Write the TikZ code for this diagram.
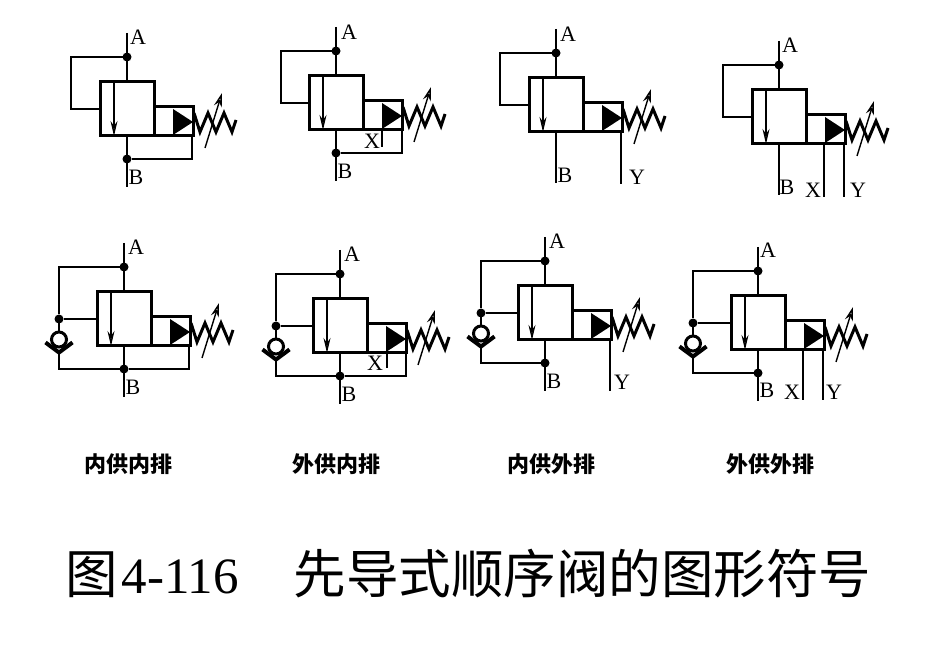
\documentclass[tikz,border=0pt]{standalone}
\usepackage{fontspec}
\setmainfont{Liberation Serif}
\newfontfamily\cjk{Noto Sans CJK SC}
\usetikzlibrary{arrows.meta}
\tikzset{
    pipe/.style={line width=1.7pt},
    stem/.style={line width=2pt},
    valvebox/.style={draw, line width=3pt, minimum size=54pt, inner sep=0pt, outer sep=0pt},
    pilotbox/.style={line width=3pt},
    poppet/.style={fill=black},
    spring/.style={line width=3pt, line join=miter},
    adjust/.style={line width=1.4pt, -{Stealth[length=14pt, width=8pt, open]}},
    flow/.style={line width=1.4pt, -{Stealth[length=15pt, width=7pt, open]}},
    jointdot/.style={circle, fill=black, minimum size=9pt, inner sep=0pt, outer sep=0pt},
    ball/.style={circle, draw, line width=3pt, minimum size=15pt, inner sep=0pt, outer sep=0pt},
    seat/.style={line width=4pt, line join=miter},
    portlabel/.style={inner sep=0pt, font=\fontsize{22}{22}\selectfont},
    caption/.style={inner sep=0pt, anchor=base, font=\cjk\bfseries\fontsize{22}{22}\selectfont},
}
\newcommand{\valvebody}{
    \node[valvebox] (main) at (27,27) {};
    \draw[pilotbox] (main.east |- 0,25) rectangle (93,54);
    \fill[poppet] (73,27) -- (93,40) -- (73,53) -- cycle;
    \draw[spring] (94,31) -- (100,50) -- (108,31) -- (116,50) -- (124,31) -- (132,50) -- (136,38);
    \draw[adjust] (105,66) -- (122,11);
    \draw[flow] (14,0) -- (14,54);
    \coordinate (topa) at (27,-49);
    \coordinate (topb) at (27,105);
    \node[jointdot] (dota) at (27,-25) {};
    \draw[stem] (topa) -- (main.north);
    \draw[stem] (main.south) -- (topb);
}
\newcommand{\checkfeed}[1]{
    \node[jointdot] (mid) at (#1,27) {};
    \node[ball] (check) at (#1,47.5) {};
    \coordinate (seatl) at (#1-13.5,50.5);
    \coordinate (seatm) at (#1,60.5);
    \coordinate (seatr) at (#1+13.5,50.5);
    \node[jointdot] (dotb) at (27,77) {};
    \draw[seat] (seatl) -- (seatm) -- (seatr);
    \draw[pipe] (dota) -| (mid);
    \draw[pipe] (mid) -- (main.west);
    \draw[pipe] (mid) -- (check);
    \draw[pipe] (seatm) |- (dotb);
}

\begin{document}
\begin{tikzpicture}[x=1pt,y=-1pt]
    \useasboundingbox (0,0) rectangle (935,652);

    \begin{scope}[shift={(100,82)}, name prefix=ii-]
        \valvebody
        \node[jointdot] (dotb) at (27,77) {};
        \draw[pipe] (dota) -| (-29,27) -- (main.west);
        \draw[pipe] (dotb) -| (92,54);
        \node[portlabel] (porta) at (38,-45) {A};
        \node[portlabel] (portb) at (36,95) {B};
    \end{scope}

    \begin{scope}[shift={(309,76)}, name prefix=ei-]
        \valvebody
        \node[jointdot] (dotb) at (27,77) {};
        \coordinate (endx) at (73,71);
        \draw[pipe] (dota) -| (-28,27) -- (main.west);
        \draw[pipe] (dotb) -| (93,54);
        \draw[pipe] (73,54) -- (endx);
        \node[portlabel] (porta) at (40,-44) {A};
        \node[portlabel] (portb) at (36,95) {B};
        \node[portlabel] (portx) at (63,65) {X};
    \end{scope}

    \begin{scope}[shift={(529,78)}, name prefix=ie-]
        \valvebody
        \coordinate (endy) at (92,106);
        \draw[pipe] (dota) -| (-29,27) -- (main.west);
        \draw[stem] (92,54) -- (endy);
        \node[portlabel] (porta) at (39,-44) {A};
        \node[portlabel] (portb) at (36,97) {B};
        \node[portlabel] (porty) at (108,99) {Y};
    \end{scope}

    \begin{scope}[shift={(752,90)}, name prefix=ee-]
        \valvebody
        \coordinate (endx) at (72,107);
        \coordinate (endy) at (92,107);
        \draw[pipe] (dota) -| (-29,27) -- (main.west);
        \draw[stem] (72,54) -- (endx);
        \draw[stem] (92,54) -- (endy);
        \node[portlabel] (porta) at (38,-45) {A};
        \node[portlabel] (portb) at (35,97) {B};
        \node[portlabel] (portx) at (61,100) {X};
        \node[portlabel] (porty) at (106,100) {Y};
    \end{scope}

    \begin{scope}[shift={(97,292)}, name prefix=cii-]
        \valvebody
        \checkfeed{-38}
        \draw[pipe] (dotb) -| (92,54);
        \node[portlabel] (porta) at (39,-45) {A};
        \node[portlabel] (portb) at (36,95) {B};
    \end{scope}

    \begin{scope}[shift={(313,299)}, name prefix=cei-]
        \valvebody
        \checkfeed{-37}
        \coordinate (endx) at (74,69);
        \draw[pipe] (dotb) -| (93,54);
        \draw[pipe] (74,54) -- (endx);
        \node[portlabel] (porta) at (39,-45) {A};
        \node[portlabel] (portb) at (36,95) {B};
        \node[portlabel] (portx) at (62,64) {X};
    \end{scope}

    \begin{scope}[shift={(518,286)}, name prefix=cie-]
        \valvebody
        \checkfeed{-37}
        \coordinate (endy) at (92,105);
        \draw[stem] (92,54) -- (endy);
        \node[portlabel] (porta) at (39,-45) {A};
        \node[portlabel] (portb) at (36,95) {B};
        \node[portlabel] (porty) at (104,96) {Y};
    \end{scope}

    \begin{scope}[shift={(731,296)}, name prefix=cee-]
        \valvebody
        \checkfeed{-38}
        \coordinate (endx) at (72,104);
        \coordinate (endy) at (92,104);
        \draw[stem] (72,54) -- (endx);
        \draw[stem] (92,54) -- (endy);
        \node[portlabel] (porta) at (37,-46) {A};
        \node[portlabel] (portb) at (36,94) {B};
        \node[portlabel] (portx) at (61,96) {X};
        \node[portlabel] (porty) at (103,96) {Y};
    \end{scope}

    \node[caption] (capa) at (128,472) {内供内排};
    \node[caption] (capb) at (336,472) {外供内排};
    \node[caption] (capc) at (551,472) {内供外排};
    \node[caption] (capd) at (770,472) {外供外排};

    \node[
        anchor=base west,
        inner sep=0pt,
        font=\fontsize{52.5}{53}\selectfont
    ] (title) at (65,593) {{\cjk 图}\hspace{4pt}{\fontsize{51}{51}\selectfont 4-116}\hspace{55pt}{\cjk 先导式顺序阀的图形符号}};
\end{tikzpicture}
\end{document}
